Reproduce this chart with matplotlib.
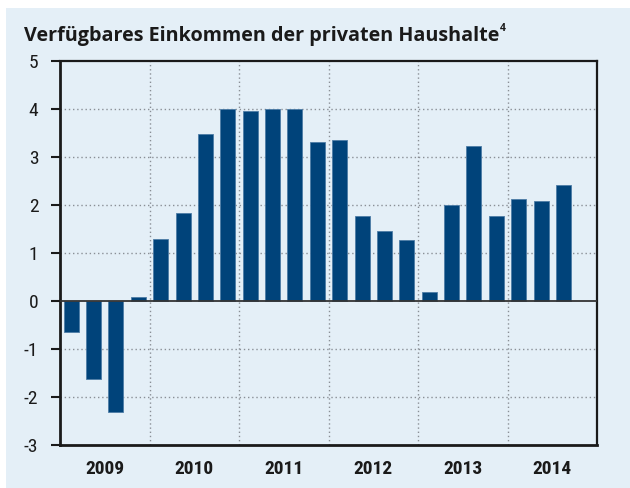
import matplotlib
matplotlib.use("Agg")
import matplotlib.pyplot as plt
from matplotlib import font_manager
from matplotlib.patches import Rectangle

# Quarterly change in disposable household income, 2009 Q1 - 2014 Q3
years = ["2009", "2010", "2011", "2012", "2013", "2014"]
values = [-0.65, -1.62, -2.32, 0.09,
          1.30, 1.83, 3.47, 4.01,
          3.96, 4.00, 4.01, 3.31,
          3.36, 1.78, 1.45, 1.28,
          0.18, 1.99, 3.23, 1.77,
          2.13, 2.09, 2.42]
y_ticks = [-3, -2, -1, 0, 1, 2, 3, 4, 5]
title = "Verfügbares Einkommen der privaten Haushalte"
footnote = "4"

installed = {f.name for f in font_manager.fontManager.ttflist}


def pick(cands):
    for c in cands:
        if c in installed:
            return c
    return "DejaVu Sans"


num_font = pick(["Roboto Condensed", "Liberation Sans Narrow", "Roboto"])
title_font = pick(["Open Sans", "Lato", "Noto Sans"])
plt.rcParams["font.family"] = num_font

BG = "#e4eff7"
BAR = "#00437a"
INK = "#1a1a1a"

fig = plt.figure(figsize=(6.3, 4.88), dpi=100)
fig.patch.set_facecolor("white")
fig.patches.append(Rectangle((6 / 630, 0), 1 - 6 / 630, 1 - 8 / 488,
                             transform=fig.transFigure, facecolor=BG,
                             edgecolor="none", zorder=-10))

ax = fig.add_axes([60 / 630, 1 - 445 / 488, 537 / 630, 384 / 488])
ax.set_facecolor(BG)

x = list(range(len(values)))
ax.bar(x, values, width=0.67, color=BAR, edgecolor="#4d7ca6",
       linewidth=0.6, zorder=3)

n_slots = 4 * len(years)
ax.set_xlim(-0.5, n_slots - 0.5)
ax.set_ylim(y_ticks[0], y_ticks[-1])

# dotted grid at whole units and at year boundaries
for yv in y_ticks[1:-1]:
    if yv != 0:
        ax.axhline(yv, color="#8a8f96", lw=1.0, ls=(0, (1, 2)), zorder=1)
for k in range(1, len(years)):
    ax.axvline(4 * k - 0.5, color="#8a8f96", lw=1.0, ls=(0, (1, 2)), zorder=1)
ax.axhline(0, color="#333333", lw=1.3, zorder=4)

ax.set_yticks(y_ticks)
ax.set_yticklabels([str(v) for v in y_ticks], fontsize=14)
ax.tick_params(axis="y", length=6.5, width=1.5, pad=9, colors=INK)
ax.set_xticks([])

for k, yr in enumerate(years):
    ax.text(4 * k + 1.5, -3.49, yr, ha="center", va="center",
            fontsize=14, fontweight="bold", color=INK)

for side, lw in [("left", 2.0), ("bottom", 2.0), ("top", 1.6), ("right", 1.6)]:
    ax.spines[side].set_linewidth(lw)
    ax.spines[side].set_color(INK)

t = fig.text(24 / 630, 1 - 41 / 488, title, fontsize=14.2, fontweight="bold",
             family=title_font, color=INK, ha="left", va="baseline")
fig.canvas.draw()
bb = t.get_window_extent()
fig.text((bb.x1 + 1) / 630, 1 - 31 / 488, footnote, fontsize=7.5,
         fontweight="bold", family=title_font, color=INK,
         ha="left", va="baseline")

fig.savefig("out.png", dpi=100, facecolor=fig.get_facecolor())
